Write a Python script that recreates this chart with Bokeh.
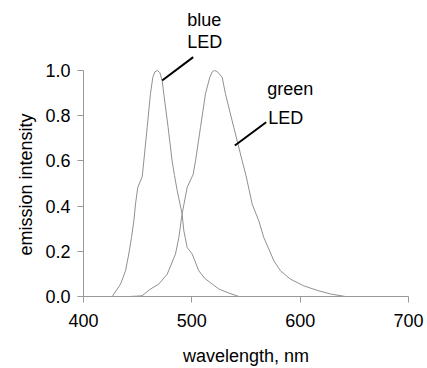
from bokeh.plotting import figure
from bokeh.models import Range1d, FixedTicker, NumeralTickFormatter, Title
from bokeh.core.properties import value
from bokeh.embed import file_html
from bokeh.resources import INLINE

# blue LED emission spectrum (wavelength nm, normalized intensity)
blue_wl = [426.5, 434.2, 438.8, 441.8, 444.3, 446.5, 448.0, 450.1, 454.2, 455.7,
           458.8, 461.8, 464.0, 466.0, 468.5, 470.5, 472.6, 474.1, 478.1, 481.8, 484.0,
           486.5, 491.0, 492.6, 495.7, 500.3, 506.4, 512.0, 518.8, 525.0, 532.6, 543.4]
blue_int = [0.0, 0.055, 0.114, 0.188, 0.261, 0.335, 0.409, 0.483, 0.53, 0.60,
            0.749, 0.897, 0.97, 0.995, 1.0, 0.99, 0.956, 0.897, 0.749, 0.60, 0.535,
            0.468, 0.366, 0.291, 0.217, 0.188, 0.114, 0.08, 0.055, 0.033, 0.018, 0.0]

# green LED emission spectrum
green_wl = [443.0, 454.0, 461.8, 469.5, 477.3, 484.9, 488.0, 491.0, 495.7, 501.2,
            503.4, 508.0, 512.6, 516.6, 519.0, 521.0, 523.5, 528.0, 531.0, 538.7, 546.5,
            550.0, 555.7, 561.8, 566.4, 572.0, 575.7, 581.8, 591.0, 603.4, 617.2,
            628.0, 641.8]
green_int = [0.0, 0.003, 0.033, 0.055, 0.099, 0.188, 0.261, 0.365, 0.483, 0.54,
             0.60, 0.749, 0.897, 0.97, 0.995, 1.0, 0.995, 0.97, 0.897, 0.749, 0.60,
             0.535, 0.409, 0.335, 0.261, 0.20, 0.158, 0.114, 0.077, 0.047, 0.025,
             0.011, 0.0]

x_ticks = [400, 500, 600, 700]
y_ticks = [0.0, 0.2, 0.4, 0.6, 0.8, 1.0]

FONT = "Liberation Sans"

p = figure(width=427, height=368, output_backend="svg", toolbar_location=None,
           x_range=Range1d(400, 700), y_range=Range1d(0, 296 / 226),
           min_border_left=83, min_border_right=19, min_border_top=0,
           min_border_bottom=72)
p.outline_line_color = None
p.xgrid.visible = False
p.ygrid.visible = False
p.background_fill_color = "white"
p.border_fill_color = "white"

p.line(blue_wl, blue_int, line_color="#909090", line_width=1)
p.line(green_wl, green_int, line_color="#909090", line_width=1)

# callout lines
p.line([472.6, 501.3], [0.956, 1.059], line_color="black", line_width=2)
p.line([539.7, 568.6], [0.668, 0.771], line_color="black", line_width=2)

txt = dict(text_font=value(FONT), text_font_size="18px", text_color="black",
           text_baseline="alphabetic", text_align="left")
p.text(x=[495.7, 495.7], y=[1.223, 1.127], text=["blue", "LED"], **txt)
p.text(x=[569.6, 570.5], y=[0.92, 0.788], text=["green", "LED"], **txt)

for ax in (p.xaxis[0], p.yaxis[0]):
    ax.axis_line_color = "#999999"
    ax.major_tick_line_color = "#999999"
    ax.major_tick_in = 0
    ax.major_tick_out = 6
    ax.minor_tick_line_color = None
    ax.major_label_text_font = FONT
    ax.major_label_text_font_size = "18px"
    ax.major_label_text_color = "black"
    ax.axis_label_text_font = FONT
    ax.axis_label_text_font_size = "18px"
    ax.axis_label_text_font_style = "normal"
    ax.axis_label_text_color = "black"

p.xaxis.ticker = FixedTicker(ticks=x_ticks)
p.yaxis.ticker = FixedTicker(ticks=y_ticks)
p.yaxis.formatter = NumeralTickFormatter(format="0.0")
p.yaxis.bounds = (0, 1)
p.xaxis.axis_label = "wavelength, nm"
p.xaxis.major_label_standoff = 11
p.yaxis.major_label_standoff = 7
p.xaxis.axis_label_standoff = 16

# y-axis title, placed along the 0..1 span of the axis
ytitle = Title(text="emission intensity", align="left", offset=41,
               text_font=FONT, text_font_size="18px", text_font_style="normal",
               text_color="black", standoff=13)
p.add_layout(ytitle, "left")

open("out.html", "w").write(file_html(p, INLINE))
